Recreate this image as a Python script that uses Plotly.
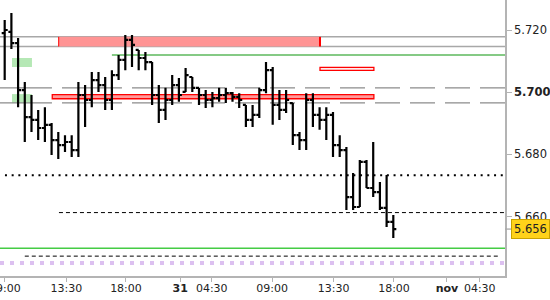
import plotly.graph_objects as go

# ---- data (30-min OHLC bars) ----
opens = [5.7190, 5.7194, 5.7158, 5.7007, 5.6920, 5.6911, 5.6885, 5.6895, 5.6846, 5.6830,
         5.6840, 5.6814, 5.6991, 5.6975, 5.7039, 5.7023, 5.6975, 5.7055, 5.7104, 5.7168,
         5.7136, 5.7110, 5.7097, 5.6991, 5.6943, 5.6975, 5.7023, 5.7001, 5.7049, 5.7014,
         5.6991, 5.6975, 5.6981, 5.6991, 5.6997, 5.6985, 5.6959, 5.6911, 5.6927, 5.7007,
         5.7071, 5.6959, 5.6943, 5.6965, 5.6862, 5.6846, 5.6975, 5.6927, 5.6911, 5.6927,
         5.6830, 5.6814, 5.6663, 5.6631, 5.6776, 5.6692, 5.6679, 5.6628, 5.6583]
highs = [5.7232, 5.7255, 5.7174, 5.7033, 5.6991, 5.6943, 5.6952, 5.6901, 5.6872, 5.6862,
         5.6862, 5.7033, 5.7023, 5.7065, 5.7065, 5.7049, 5.7071, 5.7120, 5.7184, 5.7184,
         5.7136, 5.7129, 5.7097, 5.7023, 5.7014, 5.7055, 5.7046, 5.7078, 5.7049, 5.7014,
         5.7007, 5.7001, 5.7014, 5.7014, 5.7001, 5.6997, 5.6959, 5.6959, 5.7014, 5.7097,
         5.7081, 5.7007, 5.7007, 5.6965, 5.6872, 5.6997, 5.6997, 5.6952, 5.6952, 5.6936,
         5.6862, 5.6824, 5.6740, 5.6782, 5.6782, 5.6840, 5.6711, 5.6734, 5.6605]
lows = [5.7039, 5.7139, 5.6952, 5.6840, 5.6872, 5.6846, 5.6840, 5.6798, 5.6785, 5.6808,
        5.6792, 5.6792, 5.6888, 5.6952, 5.7001, 5.6943, 5.6943, 5.7039, 5.7071, 5.7081,
        5.7071, 5.7071, 5.6959, 5.6901, 5.6911, 5.6959, 5.6969, 5.7001, 5.7001, 5.6959,
        5.6949, 5.6952, 5.6969, 5.6965, 5.6969, 5.6949, 5.6888, 5.6888, 5.6917, 5.6997,
        5.6895, 5.6911, 5.6933, 5.6830, 5.6814, 5.6814, 5.6888, 5.6879, 5.6846, 5.6792,
        5.6792, 5.6621, 5.6621, 5.6631, 5.6692, 5.6663, 5.6621, 5.6567, 5.6531]
closes = [5.7200, 5.7158, 5.7007, 5.6920, 5.6911, 5.6885, 5.6895, 5.6846, 5.6830, 5.6840,
          5.6814, 5.6991, 5.6975, 5.7039, 5.7023, 5.6975, 5.7055, 5.7104, 5.7168, 5.7152,
          5.7110, 5.7097, 5.6991, 5.6943, 5.6975, 5.7023, 5.6991, 5.7055, 5.7014, 5.6991,
          5.6975, 5.6981, 5.6991, 5.6997, 5.6985, 5.6975, 5.6911, 5.6927, 5.7007, 5.7071,
          5.6959, 5.6943, 5.6975, 5.6862, 5.6846, 5.6975, 5.6927, 5.6911, 5.6927, 5.6830,
          5.6814, 5.6663, 5.6631, 5.6776, 5.6692, 5.6679, 5.6628, 5.6583, 5.6560]
slots = list(range(len(closes)))

tick_slots = [0, 9.2, 18.1, 26.2, 30.9, 39.9, 49.1, 58.1, 66.0, 70.9]
tick_labels = ["09:00", "13:30", "18:00", "<b>31</b>", "04:30", "09:00", "13:30",
               "18:00", "<b>nov</b>", "04:30"]
y_ticks = [5.660, 5.680, 5.700, 5.720]
y_tick_labels = ["5.660", "5.680", "<b>5.700</b>", "5.720"]
last_price = 5.656

# drawn levels (prices)
gray_solid_levels = [5.7178, 5.7147]
gray_dash_levels = [5.7014, 5.6966]
green_top_level = 5.7120
green_bottom_level = 5.6498
dotted_level = 5.6733
dashed_level_1 = 5.6613
dashed_level_2 = 5.6473
lavender_level = 5.6451
red_band = (5.6979, 5.6992)
red_small = (5.7070, 5.7080)
green_boxes = [(5.7081, 5.7110), (5.6965, 5.6994)]

fig = go.Figure()
fig.add_trace(go.Ohlc(
    x=slots, open=opens, high=highs, low=lows, close=closes,
    increasing=dict(line=dict(color="black", width=2.2)),
    decreasing=dict(line=dict(color="black", width=2.2)),
    tickwidth=0.45, hoverinfo="skip", showlegend=False,
))

shapes = []
def hline(y, x0, x1, color, width, dash="solid", xref="x"):
    shapes.append(dict(type="line", xref=xref, yref="y", x0=x0, x1=x1, y0=y, y1=y,
                       line=dict(color=color, width=width, dash=dash), layer="below"))

# red resistance zone between gray lines
shapes.append(dict(type="rect", xref="x", yref="y", x0=8.06, x1=47.06,
                   y0=gray_solid_levels[1], y1=gray_solid_levels[0],
                   fillcolor="#ff9494", line=dict(width=0), layer="below"))
for y in gray_solid_levels:
    shapes.append(dict(type="line", xref="paper", yref="y", x0=0, x1=1, y0=y, y1=y,
                       line=dict(color="#a8a8a8", width=1.5), layer="below"))
shapes.append(dict(type="line", xref="x", yref="y", x0=8.06, x1=8.06,
                   y0=gray_solid_levels[1], y1=gray_solid_levels[0],
                   line=dict(color="#ff0000", width=1), layer="below"))
shapes.append(dict(type="line", xref="x", yref="y", x0=47.06, x1=47.06,
                   y0=gray_solid_levels[1], y1=gray_solid_levels[0],
                   line=dict(color="#ff0000", width=2), layer="below"))

# green upper line
hline(green_top_level, 16.0, 80, "#5cb85c", 1.5)

# light green boxes
for (a, b) in green_boxes:
    shapes.append(dict(type="rect", xref="x", yref="y", x0=1.09, x1=4.07, y0=a, y1=b,
                       fillcolor="#b5e8b5", line=dict(width=0), layer="below"))

# gray dashed levels
for y in gray_dash_levels:
    hline(y, -1.9, 28.4, "#8c8c8c", 1.3, "60px,10px")
    hline(y, 29.15, 80, "#8c8c8c", 1.3, "25px,10px")

# red band and small red box
shapes.append(dict(type="rect", xref="x", yref="y", x0=7.1, x1=55.1,
                   y0=red_band[0], y1=red_band[1],
                   fillcolor="#ff9999", line=dict(color="#ff0000", width=1.3), layer="below"))
shapes.append(dict(type="rect", xref="x", yref="y", x0=47.06, x1=55.1,
                   y0=red_small[0], y1=red_small[1],
                   fillcolor="#ffecec", line=dict(color="#ff0000", width=1.3), layer="below"))

# lower lines
hline(dotted_level, 0.04, 80, "black", 2, "2px,4.7px")
hline(dashed_level_1, 8.1, 80, "black", 1, "4px,3px")
hline(green_bottom_level, -2, 80, "#44cc44", 1.5)
hline(dashed_level_2, 3.0, 73.9, "black", 1, "4px,3px")
hline(lavender_level, -0.7, 80, "#dcc0f0", 4, "4px,6px")

# last price tick on axis
shapes.append(dict(type="line", xref="paper", yref="y", x0=1, x1=1.012,
                   y0=last_price, y1=last_price,
                   line=dict(color="#a8a8a8", width=1.3)))

# first x label partly off the left edge: drawn as an annotation so it is not dropped
shown_tick_text = [""] + tick_labels[1:]

fig.update_layout(
    width=550, height=300,
    margin=dict(l=0, r=45, t=0, b=24),
    paper_bgcolor="white", plot_bgcolor="white",
    shapes=shapes,
    font=dict(family="DejaVu Sans", color="#222222"),
    xaxis=dict(
        range=[-0.70, 74.67], rangeslider=dict(visible=False),
        tickmode="array", tickvals=tick_slots, ticktext=shown_tick_text,
        ticks="outside", ticklen=4, tickcolor="#b4b4b4", tickwidth=1.3,
        ticklabelstandoff=-3,
        showline=True, linecolor="#b4b4b4", linewidth=1.5,
        showgrid=False, zeroline=False, tickfont=dict(size=11, color="#222222"),
    ),
    yaxis=dict(
        side="right", range=[5.64091, 5.72965],
        tickmode="array", tickvals=y_ticks, ticktext=y_tick_labels,
        ticks="outside", ticklen=5, tickcolor="#b4b4b4", tickwidth=1.3,
        showline=True, linecolor="#b4b4b4", linewidth=1.5,
        showgrid=False, zeroline=False, tickfont=dict(size=11.5, color="#222222"),
    ),
    annotations=[
        dict(
            xref="paper", yref="y", x=1, y=last_price, xanchor="left", yanchor="middle",
            xshift=6, text="5.656", showarrow=False,
            font=dict(family="DejaVu Sans", size=11.5, color="#222222"),
            bgcolor="#ffd21a", bordercolor="#c9a200", borderwidth=1, borderpad=2,
        ),
        dict(
            xref="x", yref="paper", x=tick_slots[0], y=-0.047, xanchor="center",
            yanchor="middle", text=tick_labels[0], showarrow=False,
            font=dict(family="DejaVu Sans", size=11, color="#222222"),
        ),
    ],
)

fig.write_html("out.html")
